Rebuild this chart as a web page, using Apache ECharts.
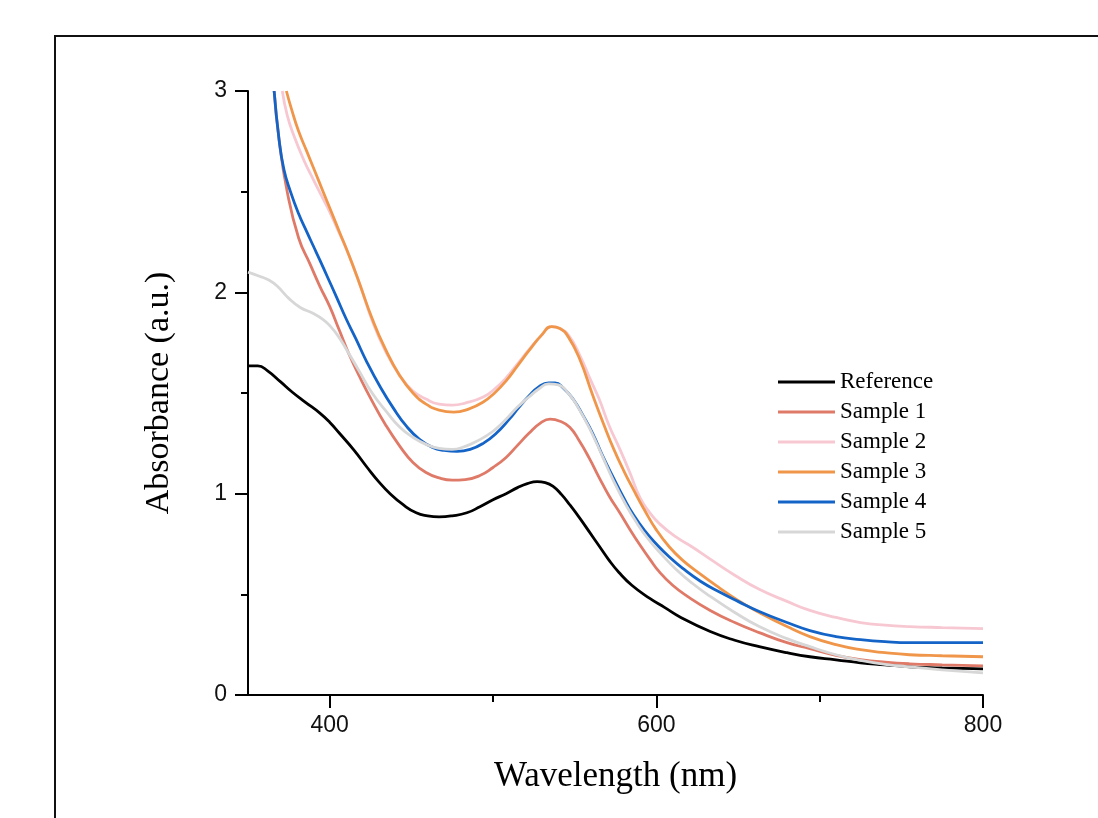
<!DOCTYPE html>
<html>
<head>
<meta charset="utf-8">
<script src="https://cdn.jsdelivr.net/npm/echarts@6/dist/echarts.min.js"></script>
<style>
html,body{margin:0;padding:0;background:#fff;}
#chart{width:1098px;height:818px;}
</style>
</head>
<body>
<div id="chart"></div>
<script>
// ---- data: [wavelength (nm), absorbance (a.u.)] ----
const seriesNames = ['Reference', 'Sample 1', 'Sample 2', 'Sample 3', 'Sample 4', 'Sample 5'];
const seriesColors = ['#000000', '#E07A68', '#F7C8D2', '#F0964A', '#1464C8', '#D7D7D7'];

const referenceData = [
  [350,1.635],[356,1.635],[362,1.61],[370,1.555],[377,1.505],[385,1.455],[394,1.40],[400,1.355],
  [406,1.30],[415,1.215],[423,1.13],[430,1.06],[437,1.00],[445,0.945],[453,0.905],[460,0.89],
  [467,0.885],[475,0.89],[484,0.905],[492,0.935],[500,0.97],[508,1.00],[515,1.03],[521,1.05],
  [527,1.06],[532,1.055],[537,1.035],[542,0.995],[547,0.945],[553,0.88],[559,0.81],[565,0.74],
  [571,0.67],[577,0.61],[585,0.545],[596,0.48],[605,0.435],[615,0.385],[633,0.315],[648,0.272],
  [663,0.24],[680,0.21],[694,0.19],[710,0.175],[725,0.16],[740,0.15],[755,0.14],[775,0.135],[800,0.13]
];
const sample1Data = [
  [366,3.0],[369,2.76],[374,2.50],[381,2.27],[388,2.14],[394,2.03],[400,1.93],[406,1.81],
  [412,1.69],[419,1.57],[426,1.46],[434,1.345],[443,1.235],[451,1.155],[459,1.105],[467,1.078],
  [475,1.067],[483,1.07],[492,1.09],[500,1.13],[508,1.18],[515,1.24],[522,1.30],[529,1.35],
  [535,1.37],[541,1.36],[547,1.33],[553,1.26],[559,1.175],[565,1.08],[571,0.99],[578,0.90],
  [584,0.82],[590,0.745],[596,0.675],[602,0.61],[610,0.545],[619,0.49],[633,0.42],[648,0.36],
  [663,0.31],[680,0.26],[694,0.23],[710,0.197],[725,0.176],[740,0.163],[755,0.155],[775,0.15],[800,0.145]
];
const sample2Data = [
  [371,3.0],[374,2.88],[378,2.78],[384,2.66],[390,2.56],[395,2.48],[400,2.40],[405,2.31],
  [410,2.22],[418,2.05],[426,1.86],[434,1.71],[443,1.585],[451,1.51],[459,1.47],[467,1.445],
  [475,1.44],[483,1.45],[494,1.48],[501,1.52],[508,1.575],[515,1.645],[522,1.715],[529,1.78],
  [536,1.83],[541,1.82],[546,1.79],[553,1.69],[560,1.56],[565,1.47],[571,1.34],[578,1.215],
  [584,1.10],[590,0.98],[596,0.905],[602,0.85],[612,0.785],[622,0.735],[633,0.675],[648,0.595],
  [663,0.525],[680,0.465],[694,0.42],[710,0.385],[725,0.36],[740,0.347],[755,0.34],[775,0.335],[800,0.33]
];
const sample3Data = [
  [373.5,3.0],[377,2.90],[381,2.80],[386,2.70],[391,2.60],[396,2.50],[401,2.40],[406,2.30],
  [412,2.18],[418,2.05],[426,1.87],[434,1.72],[443,1.585],[451,1.50],[459,1.445],[467,1.415],
  [476,1.405],[485,1.42],[494,1.455],[501,1.50],[508,1.56],[515,1.635],[522,1.71],[530,1.79],
  [536,1.83],[541,1.82],[546,1.78],[553,1.67],[561,1.49],[568,1.34],[574,1.22],[580,1.115],
  [586,1.02],[593,0.915],[600,0.82],[608,0.735],[616,0.67],[627,0.60],[639,0.53],[650,0.47],
  [663,0.41],[680,0.34],[694,0.29],[710,0.25],[725,0.225],[740,0.21],[755,0.20],[775,0.195],[800,0.19]
];
const sample4Data = [
  [366,3.0],[369,2.76],[372,2.61],[376,2.50],[381,2.39],[386,2.30],[390,2.23],[394,2.16],
  [399,2.07],[404,1.98],[410,1.87],[416,1.77],[423,1.65],[431,1.53],[439,1.425],[447,1.335],
  [455,1.27],[463,1.23],[470,1.215],[478,1.21],[486,1.22],[494,1.25],[502,1.30],[510,1.37],
  [516,1.43],[522,1.485],[528,1.53],[534,1.55],[538,1.55],[543,1.525],[549,1.47],[555,1.39],
  [561,1.30],[567,1.19],[574,1.075],[580,0.98],[586,0.895],[593,0.815],[600,0.75],[608,0.685],
  [616,0.63],[627,0.565],[639,0.51],[650,0.465],[663,0.415],[680,0.36],[694,0.32],[710,0.29],
  [725,0.275],[740,0.265],[755,0.26],[775,0.26],[800,0.26]
];
const sample5Data = [
  [350,2.10],[357,2.08],[363,2.06],[368,2.03],[375,1.97],[382,1.925],[390,1.895],[396,1.865],
  [400,1.835],[405,1.785],[410,1.72],[418,1.61],[426,1.50],[435,1.405],[443,1.33],[451,1.28],
  [459,1.245],[467,1.225],[475,1.22],[483,1.235],[490,1.26],[500,1.31],[508,1.37],[515,1.43],
  [522,1.48],[528,1.52],[534,1.545],[540,1.54],[546,1.50],[552,1.43],[560,1.31],[567,1.185],
  [574,1.06],[581,0.95],[588,0.855],[595,0.775],[603,0.70],[612,0.625],[622,0.555],[633,0.49],
  [648,0.41],[663,0.34],[680,0.28],[694,0.24],[710,0.20],[725,0.172],[740,0.152],[755,0.14],
  [775,0.125],[800,0.11]
];
const allData = [referenceData, sample1Data, sample2Data, sample3Data, sample4Data, sample5Data];

const xMajorTicks = [400, 600, 800];
const xMinorTicks = [500, 700];
const xLabel = 'Wavelength (nm)';
const yLabel = 'Absorbance (a.u.)';

const chart = echarts.init(document.getElementById('chart'), null, {renderer: 'canvas'});
const axisColor = '#000';
const option = {
  animation: false,
  backgroundColor: '#fff',
  grid: {left: 248, right: 115, top: 91, bottom: 123},
  graphic: [{
    type: 'polyline',
    shape: {points: [[55, 830], [55, 36], [1110, 36]]},
    style: {stroke: '#111', lineWidth: 2, fill: null}
  }],
  legend: {
    orient: 'vertical', left: 773, top: 365.5,
    icon: 'rect', itemWidth: 57, itemHeight: 3, itemGap: 7,
    textStyle: {fontFamily: 'Liberation Serif', fontSize: 23, color: '#000', lineHeight: 23},
    data: seriesNames
  },
  xAxis: [{
    type: 'value', min: 350, max: 800,
    name: xLabel, nameLocation: 'middle', nameGap: 64,
    nameTextStyle: {fontFamily: 'Liberation Serif', fontSize: 35, color: '#000'},
    axisLine: {show: true, onZero: false, lineStyle: {color: axisColor, width: 2}},
    axisTick: {show: true, inside: false, length: 13, lineStyle: {color: axisColor, width: 2}, customValues: xMajorTicks},
    axisLabel: {margin: 19, fontFamily: 'Liberation Sans', fontSize: 23, color: '#111', customValues: xMajorTicks},
    splitLine: {show: false}
  }, {
    type: 'value', min: 350, max: 800, position: 'bottom',
    axisLine: {show: false},
    axisTick: {show: true, inside: false, length: 7, lineStyle: {color: axisColor, width: 2}, customValues: xMinorTicks},
    axisLabel: {show: false},
    splitLine: {show: false}
  }],
  yAxis: {
    type: 'value', min: 0, max: 3, interval: 1,
    name: yLabel, nameLocation: 'middle', nameGap: 72,
    nameTextStyle: {fontFamily: 'Liberation Serif', fontSize: 34, color: '#000'},
    axisLine: {show: true, onZero: false, lineStyle: {color: axisColor, width: 2}},
    axisTick: {show: true, inside: false, length: 13, lineStyle: {color: axisColor, width: 2}},
    minorTick: {show: true, splitNumber: 2, length: 7, lineStyle: {color: axisColor, width: 2}},
    axisLabel: {margin: 21, fontFamily: 'Liberation Sans', fontSize: 23, color: '#111'},
    splitLine: {show: false},
    minorSplitLine: {show: false}
  },
  series: seriesNames.map((name, i) => ({
    name: name,
    type: 'line',
    xAxisIndex: 0,
    data: allData[i],
    smooth: true,
    showSymbol: false,
    clip: true,
    color: seriesColors[i],
    lineStyle: {color: seriesColors[i], width: 2.8},
    emphasis: {disabled: true}
  }))
};
chart.setOption(option);
</script>
</body>
</html>
